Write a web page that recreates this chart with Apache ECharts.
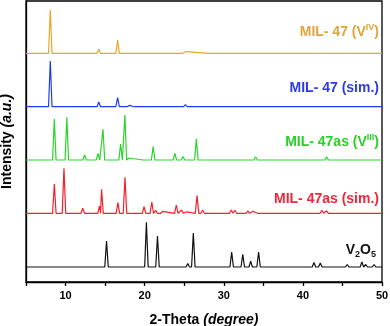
<!DOCTYPE html>
<html>
<head>
<meta charset="utf-8">
<script src="https://cdn.jsdelivr.net/npm/echarts@6/dist/echarts.min.js"></script>
<style>html,body{margin:0;padding:0;background:#fff}#c{width:390px;height:326px}</style>
</head>
<body>
<div id="c"></div>
<script>
// Peak lists: [2-theta (degree), intensity above baseline (a.u.)]
const peaksMIL47V4 = [[8.07,43.3],[10.7,1],[12.5,0.6],[14.2,4],[16.58,13.3],[18.87,1.3],[21.0,0.6],[24.6,1.2],[25.2,1.7],[28.3,0.6],[31.5,0.6],[34.6,0.6],[37.8,0.6],[41.2,0.6],[44.5,0.6],[47.5,0.6]];
const peaksMIL47sim = [[8.07,45.7],[10.7,0.8],[14.2,4.7],[16.58,9.2],[17.55,1.3],[18.1,1.3],[18.87,1.3],[25.15,2.2],[30.0,0.7],[31.2,0.7],[32.5,0.7],[40.5,0.7],[42.0,0.7],[43.2,0.7]];
const peaksMIL47asV3 = [[8.58,41],[10.16,42.7],[12.41,5],[14.1,6.7],[14.73,30.7],[16.96,16],[17.5,45],[18.0,2],[20.0,2],[21.07,13.3],[21.83,2],[23.82,6.7],[24.84,3.6],[25.55,2],[26.53,21.3],[27.75,1.5],[30.7,1.2],[31.8,1.2],[32.6,1.2],[34.03,3.3],[35.2,1],[36.4,1],[37.9,1],[39.2,1],[40.7,1.7],[41.7,1],[43.0,3.3],[44.3,1],[46.0,1],[48.1,1]];
const peaksMIL47asSim = [[8.58,29.3],[9.8,45],[12.17,5],[14.29,7.3],[14.55,24],[16.62,10.7],[17.51,36],[19.92,6.7],[20.9,11.3],[21.4,3],[21.8,2],[22.3,2],[24.0,8.3],[24.67,3.3],[25.3,1.5],[26.62,17.7],[27.33,3.3],[29.45,2],[30.94,3.3],[31.4,3],[32.2,2],[33.05,2.5],[33.7,2],[34.5,2],[37.3,1.5],[39.6,1.5],[42.4,3],[43.0,2.5],[44.7,1.5],[46.4,1.5],[48.1,1.5]];
const peaksV2O5 = [[15.18,26],[20.22,44.7],[21.62,31],[25.45,3.5],[26.15,34],[31.0,15],[32.4,12.7],[33.4,5.7],[34.4,15],[37.4,2],[40.25,2],[41.4,4.5],[42.2,4],[44.3,1.5],[45.6,2.5],[47.46,5],[47.95,2.5],[49.0,2.5]];
// Stacking offsets of each pattern (a.u.)
const baselines = [228.7, 175.3, 122, 68.7, 15];
const xRange = [5, 50];
const xTickLabels = [10, 20, 30, 40, 50];

const colors = ['#E8A628', '#1E3CF2', '#2AD42A', '#F5202F', '#111111'];
const labelColors = ['#E2A437', '#2B3BE6', '#2ACF2A', '#F2263B', '#111111'];
const allPeaks = [peaksMIL47V4, peaksMIL47sim, peaksMIL47asV3, peaksMIL47asSim, peaksV2O5];

function buildTrace(peaks, base, w) {
  const pts = [[xRange[0], base]];
  peaks.forEach((p, i) => {
    const prev = peaks[i - 1], next = peaks[i + 1];
    let l = p[0] - w, r = p[0] + w;
    if (prev) l = Math.max(l, (prev[0] + p[0]) / 2);
    if (next) r = Math.min(r, (next[0] + p[0]) / 2);
    pts.push([l, base], [p[0], base + p[1]], [r, base]);
  });
  pts.push([xRange[1], base]);
  return pts;
}

const chart = echarts.init(document.getElementById('c'), null, {renderer: 'canvas'});
const bold = {fontFamily: 'Liberation Sans, Arial, sans-serif', fontWeight: 'bold'};
function lbl(text, x, y, color) {
  return {
    type: 'text', x: x, y: y, z: 10,
    style: {
      text: text, fill: color, align: 'right', verticalAlign: 'middle',
      textAlign: 'right', textVerticalAlign: 'middle',
      rich: {
        a: Object.assign({fontSize: 14, fill: color, color: color, lineHeight: 18}, bold),
        s: Object.assign({fontSize: 9, fill: color, color: color, lineHeight: 10, verticalAlign: 'top'}, bold),
        d: Object.assign({fontSize: 9, fill: color, color: color, lineHeight: 10, verticalAlign: 'bottom'}, bold)
      }
    }
  };
}

chart.setOption({
  animation: false,
  grid: {left: 26, right: 8, top: 1, bottom: 44, show: true, borderColor: '#000', borderWidth: 1.3,
         containLabel: false, outerBoundsMode: 'none'},
  xAxis: {
    type: 'value', min: xRange[0], max: xRange[1], interval: 5,
    name: '{b|2-Theta }{i|(degree)}', nameLocation: 'middle', nameGap: 31,
    nameTextStyle: {rich: {
      b: Object.assign({fontSize: 14, color: '#000'}, bold),
      i: Object.assign({fontSize: 14, color: '#000', fontStyle: 'italic'}, bold)
    }},
    axisLine: {show: true, lineStyle: {color: '#000', width: 1.3}},
    axisTick: {show: true, inside: false, length: 4, lineStyle: {color: '#000', width: 1.3}},
    axisLabel: Object.assign({fontSize: 11, color: '#000', margin: 8,
      formatter: v => (xTickLabels.indexOf(v) >= 0 ? String(v) : '')}, bold),
    splitLine: {show: false}
  },
  yAxis: {
    type: 'value', min: 0, max: 281,
    name: '{b|Intensity }{i|(a.u.)}', nameLocation: 'middle', nameGap: 12,
    nameTextStyle: {rich: {
      b: Object.assign({fontSize: 14, color: '#000'}, bold),
      i: Object.assign({fontSize: 14, color: '#000', fontStyle: 'italic'}, bold)
    }},
    axisLine: {show: true, lineStyle: {color: '#000', width: 1.3}},
    axisTick: {show: false}, axisLabel: {show: false}, splitLine: {show: false}
  },
  series: allPeaks.map((pk, i) => ({
    type: 'line', data: buildTrace(pk, baselines[i], 0.22),
    showSymbol: false, symbol: 'none', clip: true,
    lineStyle: {color: colors[i], width: 1.2}, itemStyle: {color: colors[i]}
  })),
  graphic: [
    lbl('{a|MIL- 47 (V}{s|IV}{a|)}', 379, 32, labelColors[0]),
    lbl('{a|MIL- 47 (sim.)}', 379, 88, labelColors[1]),
    lbl('{a|MIL- 47as (V}{s|III}{a|)}', 379, 142, labelColors[2]),
    lbl('{a|MIL- 47as (sim.)}', 379, 199, labelColors[3]),
    lbl('{a|V}{d|2}{a|O}{d|5}', 376, 250, labelColors[4])
  ]
});
</script>
</body>
</html>
